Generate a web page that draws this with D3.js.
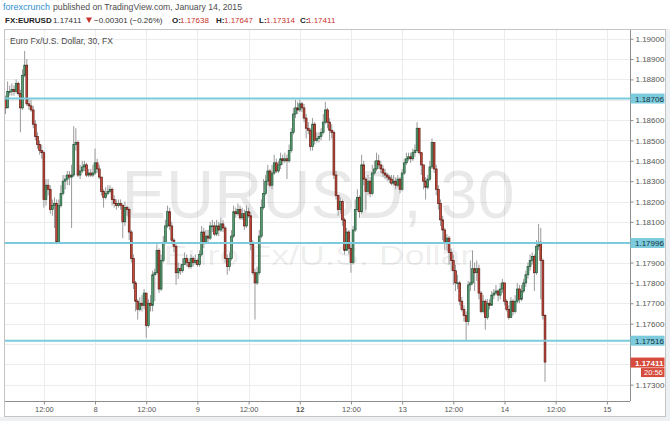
<!DOCTYPE html>
<html><head><meta charset="utf-8">
<script src="https://cdn.jsdelivr.net/npm/d3@7"></script>
<style>
html,body{margin:0;padding:0;background:#fff;}
svg{display:block;font-family:"Liberation Sans",Arial,Helvetica,sans-serif;}
</style></head><body>
<svg id="c" width="670" height="421"></svg>
<script>
// ---------------- DATA ----------------
const publisher = "forexcrunch";
const publishedText = "published on TradingView.com, January 14, 2015";
const symbol = "FX:EURUSD";
const chartTitle = "Euro Fx/U.S. Dollar, 30, FX";
const watermarkMain = "EURUSD, 30";
const watermarkSub = "Euro Fx/U.S. Dollar";
const quote = {last: "1.17411", change: "\u22120.00301 (\u22120.26%)", O: "1.17638", H: "1.17647", L: "1.17314", C: "1.17411"};

const firstOpen = 1.1870;
const closes = [
1.1866,1.1874,1.1874,1.1875,1.1874,1.1878,1.1873,1.1866,1.1882,1.1887,
1.1868,1.1867,1.1865,1.1858,1.1852,1.1848,1.1845,1.1844,1.1821,1.1828,
1.1826,1.1816,1.1818,1.1819,1.1800,1.1818,1.1824,1.1830,1.1831,1.1833,
1.1832,1.1833,1.1848,1.1849,1.1833,1.1835,1.1837,1.1838,1.1833,1.1834,
1.1833,1.1834,1.1839,1.1836,1.1832,1.1825,1.1822,1.1824,1.1825,1.1826,
1.1821,1.1819,1.1818,1.1819,1.1818,1.1810,1.1817,1.1816,1.1805,1.1792,
1.1780,1.1771,1.1767,1.1770,1.1769,1.1775,1.1759,1.1770,1.1769,1.1784,
1.1785,1.1796,1.1777,1.1791,1.1800,1.1808,1.1815,1.1808,1.1801,1.1798,
1.1785,1.1787,1.1786,1.1789,1.1792,1.1790,1.1788,1.1792,1.1790,1.1791,
1.1789,1.1794,1.1805,1.1800,1.1803,1.1802,1.1808,1.1808,1.1804,1.1808,
1.1806,1.1809,1.1807,1.1792,1.1788,1.1792,1.1803,1.1815,1.1814,1.1816,
1.1812,1.1814,1.1808,1.1815,1.1813,1.1799,1.1785,1.1780,1.1785,1.1803,
1.1817,1.1824,1.1830,1.1835,1.1828,1.1834,1.1839,1.1835,1.1838,1.1841,
1.1840,1.1841,1.1840,1.1845,1.1854,1.1863,1.1866,1.1865,1.1868,1.1866,
1.1861,1.1856,1.1855,1.1847,1.1858,1.1850,1.1851,1.1852,1.1854,1.1859,
1.1865,1.1859,1.1855,1.1854,1.1833,1.1823,1.1816,1.1820,1.1811,1.1796,
1.1805,1.1797,1.1790,1.1806,1.1816,1.1822,1.1815,1.1838,1.1831,1.1825,
1.1830,1.1824,1.1834,1.1836,1.1840,1.1838,1.1836,1.1834,1.1833,1.1832,
1.1831,1.1829,1.1830,1.1828,1.1831,1.1826,1.1834,1.1839,1.1841,1.1842,
1.1841,1.1844,1.1845,1.1856,1.1844,1.1838,1.1830,1.1827,1.1831,1.1837,
1.1849,1.1836,1.1826,1.1819,1.1811,1.1806,1.1800,1.1802,1.1795,1.1791,
1.1786,1.1780,1.1780,1.1771,1.1767,1.1764,1.1761,1.1779,1.1780,1.1787,
1.1785,1.1787,1.1775,1.1766,1.1771,1.1763,1.1770,1.1769,1.1774,1.1775,
1.1776,1.1774,1.1777,1.1780,1.1771,1.1767,1.1763,1.1771,1.1766,1.1771,
1.1777,1.1772,1.1776,1.1780,1.1784,1.1788,1.1791,1.1793,1.1785,1.1798,
1.1800,1.1791,1.1764,1.17411];
const highs = [
1.1872,1.1879,1.1877,1.1878,1.1877,1.1880,1.1879,1.1875,1.1885,1.1894,
1.1890,1.1871,1.1870,1.1867,1.1860,1.1854,1.1850,1.1848,1.1845,1.1831,
1.1831,1.1828,1.1821,1.1822,1.1821,1.1821,1.1828,1.1833,1.1833,1.1835,
1.1835,1.1838,1.1857,1.1856,1.1850,1.1838,1.1840,1.1840,1.1839,1.1836,
1.1836,1.1838,1.1846,1.1841,1.1838,1.1832,1.1826,1.1827,1.1828,1.1828,
1.1827,1.1823,1.1821,1.1821,1.1821,1.1819,1.1820,1.1818,1.1817,1.1806,
1.1794,1.1781,1.1772,1.1773,1.1774,1.1777,1.1775,1.1772,1.1774,1.1786,
1.1787,1.1799,1.1797,1.1794,1.1803,1.1811,1.1818,1.1817,1.1810,1.1802,
1.1799,1.1790,1.1789,1.1792,1.1795,1.1794,1.1792,1.1794,1.1793,1.1794,
1.1792,1.1796,1.1808,1.1807,1.1806,1.1806,1.1810,1.1811,1.1810,1.1811,
1.1810,1.1812,1.1811,1.1808,1.1794,1.1795,1.1806,1.1818,1.1817,1.1819,
1.1818,1.1817,1.1816,1.1818,1.1817,1.1815,1.1801,1.1787,1.1788,1.1806,
1.1821,1.1831,1.1833,1.1838,1.1836,1.1838,1.1843,1.1841,1.1840,1.1844,
1.1843,1.1844,1.1843,1.1848,1.1856,1.1866,1.1870,1.1869,1.1870,1.1869,
1.1868,1.1863,1.1859,1.1856,1.1861,1.1859,1.1854,1.1854,1.1856,1.1863,
1.1869,1.1866,1.1861,1.1858,1.1855,1.1835,1.1823,1.1822,1.1821,1.1812,
1.1807,1.1806,1.1799,1.1808,1.1821,1.1826,1.1823,1.1843,1.1840,1.1832,
1.1833,1.1832,1.1838,1.1840,1.1844,1.1843,1.1840,1.1838,1.1836,1.1834,
1.1833,1.1833,1.1833,1.1832,1.1833,1.1832,1.1836,1.1841,1.1844,1.1844,
1.1844,1.1846,1.1848,1.1859,1.1856,1.1844,1.1838,1.1832,1.1833,1.1840,
1.1851,1.1849,1.1838,1.1828,1.1821,1.1813,1.1807,1.1804,1.1803,1.1797,
1.1794,1.1789,1.1784,1.1781,1.1773,1.1769,1.1766,1.1781,1.1791,1.1796,
1.1790,1.1791,1.1789,1.1776,1.1774,1.1772,1.1772,1.1772,1.1776,1.1777,
1.1779,1.1777,1.1780,1.1782,1.1780,1.1772,1.1769,1.1773,1.1772,1.1774,
1.1780,1.1779,1.1779,1.1782,1.1786,1.1790,1.1794,1.1795,1.1794,1.1801,
1.1809,1.1807,1.1792,1.17647];
const lows = [
1.1863,1.1866,1.1872,1.1872,1.1872,1.1873,1.1872,1.1854,1.1865,1.1881,
1.1867,1.1865,1.1864,1.1856,1.1850,1.1846,1.1843,1.1841,1.1817,1.1818,
1.1823,1.1814,1.1813,1.1807,1.1799,1.1800,1.1817,1.1823,1.1826,1.1828,
1.1828,1.1807,1.1832,1.1845,1.1832,1.1831,1.1834,1.1835,1.1832,1.1832,
1.1832,1.1832,1.1833,1.1834,1.1831,1.1823,1.1817,1.1821,1.1823,1.1824,
1.1818,1.1817,1.1816,1.1817,1.1816,1.1802,1.1808,1.1813,1.1801,1.1790,
1.1777,1.1766,1.1762,1.1766,1.1766,1.1767,1.1753,1.1758,1.1766,1.1766,
1.1771,1.1784,1.1775,1.1776,1.1790,1.1799,1.1807,1.1806,1.1799,1.1795,
1.1779,1.1782,1.1784,1.1785,1.1789,1.1788,1.1787,1.1787,1.1788,1.1789,
1.1788,1.1788,1.1793,1.1797,1.1799,1.1800,1.1801,1.1805,1.1803,1.1803,
1.1803,1.1805,1.1805,1.1790,1.1784,1.1786,1.1791,1.1802,1.1812,1.1813,
1.1811,1.1811,1.1806,1.1807,1.1812,1.1796,1.1784,1.1762,1.1779,1.1784,
1.1802,1.1816,1.1823,1.1828,1.1827,1.1826,1.1833,1.1834,1.1834,1.1836,
1.1838,1.1839,1.1831,1.1839,1.1844,1.1853,1.1861,1.1863,1.1864,1.1864,
1.1859,1.1851,1.1853,1.1845,1.1845,1.1848,1.1849,1.1849,1.1850,1.1853,
1.1858,1.1856,1.1850,1.1851,1.1831,1.1821,1.1813,1.1814,1.1808,1.1794,
1.1796,1.1794,1.1785,1.1789,1.1805,1.1815,1.1812,1.1814,1.1828,1.1816,
1.1823,1.1822,1.1823,1.1833,1.1835,1.1836,1.1834,1.1832,1.1831,1.1830,
1.1829,1.1828,1.1828,1.1826,1.1827,1.1824,1.1825,1.1833,1.1838,1.1840,
1.1839,1.1840,1.1842,1.1844,1.1843,1.1833,1.1826,1.1821,1.1826,1.1830,
1.1836,1.1834,1.1823,1.1816,1.1808,1.1801,1.1796,1.1796,1.1789,1.1786,
1.1779,1.1776,1.1777,1.1769,1.1766,1.1761,1.1752,1.1759,1.1776,1.1779,
1.1776,1.1781,1.1772,1.1765,1.1765,1.1757,1.1762,1.1767,1.1769,1.1772,
1.1774,1.1771,1.1772,1.1775,1.1769,1.1766,1.1762,1.1763,1.1764,1.1765,
1.1770,1.1770,1.1771,1.1775,1.1778,1.1782,1.1786,1.1789,1.1776,1.1784,
1.1796,1.1772,1.1762,1.17314];

// time axis: bar 0 = Jan 7 03:00 (30-minute bars), a label every 24 bars
const timeLabels = ["12:00","8","12:00","9","12:00","12","12:00","13","12:00","14","12:00","15"];
const tickBars = [18,42,66,90,114,138,162,186,210,234,258,282];
const boldLabels = ["12"];

// price axis
const gridPrices = [1.173,1.174,1.175,1.176,1.177,1.178,1.179,1.180,1.181,1.182,1.183,1.184,1.185,1.186,1.187,1.188,1.189,1.190];
const priceTicks = [1.190,1.189,1.188,1.186,1.185,1.184,1.183,1.182,1.181,1.179,1.178,1.177,1.176,1.173];
const levels = [1.18706, 1.17996, 1.17516];
const lastPrice = 1.17411;
const countdown = "20:56";

if (closes.length !== highs.length || closes.length !== lows.length) {
  throw new Error("length mismatch " + closes.length + " " + highs.length + " " + lows.length);
}

// ---------------- LAYOUT ----------------
const W = 670, H = 421;
const plot = {l: 5, r: 630, t: 30, b: 401};
const svg = d3.select("#c");

const bars = closes.map((c, i) => {
  const o = i === 0 ? firstOpen : closes[i - 1];
  return {i, o, c, h: Math.max(highs[i], o, c), l: Math.min(lows[i], o, c)};
});

const x = d3.scaleLinear().domain([-0.22, 292.85]).range([plot.l, plot.r]);
const y = d3.scaleLinear().domain([1.172197, 1.190428]).range([plot.b, plot.t]);

// backgrounds
svg.append("rect").attr("width", W).attr("height", H).attr("fill", "#ffffff");
svg.append("rect").attr("x", 0).attr("y", 417).attr("width", W).attr("height", 4).attr("fill", "#eef1f4");
svg.append("rect").attr("x", 666).attr("y", 29).attr("width", 4).attr("height", 392).attr("fill", "#eef1f4");

// header
svg.append("text").attr("x", 3).attr("y", 10).attr("font-size", 9.5).attr("fill", "#2f8fd2")
  .attr("textLength", 47).attr("lengthAdjust", "spacingAndGlyphs").text(publisher);
svg.append("text").attr("x", 53).attr("y", 10).attr("font-size", 9.5).attr("fill", "#4d4d4d")
  .attr("textLength", 189).attr("lengthAdjust", "spacingAndGlyphs").text(publishedText);

const hy = 22.5;
function htext(xp, t, fill, bold) {
  svg.append("text").attr("x", xp).attr("y", hy).attr("font-size", 8)
    .attr("font-weight", bold ? "bold" : "normal").attr("fill", fill).text(t);
}
const red = "#c8332b";
htext(5, symbol, "#222", true);
htext(53, quote.last, "#333", false);
svg.append("path").attr("d", "M86,17.5 L92,17.5 L89,23 Z").attr("fill", red);
htext(94, quote.change, "#333", false);
htext(172, "O:", "#222", true); htext(180, quote.O, red, false);
htext(216, "H:", "#222", true); htext(224, quote.H, red, false);
htext(259, "L:", "#222", true); htext(266, quote.L, red, false);
htext(300, "C:", "#222", true); htext(307, quote.C, red, false);

// frame
svg.append("rect").attr("x", 4.5).attr("y", 29.5).attr("width", 661).attr("height", 387)
  .attr("fill", "#fff").attr("stroke", "#c4c4c4");

// grid
const grid = svg.append("g");
grid.selectAll("line.h").data(gridPrices).join("line")
  .attr("x1", plot.l).attr("x2", plot.r)
  .attr("y1", d => Math.round(y(d)) + 0.5).attr("y2", d => Math.round(y(d)) + 0.5)
  .attr("stroke", "#ececec");
grid.selectAll("line.v").data(tickBars).join("line")
  .attr("x1", d => Math.round(x(d)) + 0.5).attr("x2", d => Math.round(x(d)) + 0.5)
  .attr("y1", plot.t).attr("y2", plot.b)
  .attr("stroke", "#ececec");

// watermark
const cx = 318;
svg.append("text").attr("x", cx).attr("y", 218).attr("text-anchor", "middle")
  .attr("font-size", 68).attr("fill", "#000").attr("fill-opacity", 0.085)
  .attr("textLength", 393).attr("lengthAdjust", "spacingAndGlyphs").text(watermarkMain);
svg.append("text").attr("x", cx).attr("y", 265).attr("text-anchor", "middle")
  .attr("font-size", 28).attr("fill", "#000").attr("fill-opacity", 0.085)
  .attr("textLength", 309).attr("lengthAdjust", "spacingAndGlyphs").text(watermarkSub);

// chart title
svg.append("text").attr("x", 10).attr("y", 44).attr("font-size", 9).attr("fill", "#4a4a4a")
  .attr("textLength", 103).attr("lengthAdjust", "spacingAndGlyphs").text(chartTitle);

// candles
svg.append("clipPath").attr("id", "pc").append("rect")
  .attr("x", plot.l).attr("y", plot.t).attr("width", plot.r - plot.l).attr("height", plot.b - plot.t);
const cg = svg.append("g").attr("clip-path", "url(#pc)");
cg.selectAll("line.w").data(bars).join("line")
  .attr("x1", d => x(d.i)).attr("x2", d => x(d.i))
  .attr("y1", d => y(d.h)).attr("y2", d => y(d.l))
  .attr("stroke", "#9a9a9a").attr("stroke-width", 1);
cg.selectAll("rect.b").data(bars).join("rect")
  .attr("x", d => x(d.i) - 0.9).attr("width", 1.8)
  .attr("y", d => y(Math.max(d.o, d.c)))
  .attr("height", d => Math.max(0.8, Math.abs(y(d.o) - y(d.c))))
  .attr("fill", d => d.c >= d.o ? "#5a9f74" : "#cc4a3a")
  .attr("stroke", d => d.c >= d.o ? "#23583a" : "#5e1b14")
  .attr("stroke-width", 0.7);

// level lines
svg.selectAll("line.lvl").data(levels).join("line")
  .attr("x1", plot.l).attr("x2", plot.r)
  .attr("y1", d => y(d)).attr("y2", d => y(d))
  .attr("stroke", "#7ccbdc").attr("stroke-width", 2);

// axes
const yAxis = d3.axisRight(y).tickValues(priceTicks).tickFormat(d3.format(".5f")).tickSize(3).tickSizeOuter(0).tickPadding(2);
const ya = svg.append("g").attr("transform", `translate(${plot.r + 0.5},0)`).call(yAxis);
ya.select(".domain").attr("stroke", "#8c8c8c").attr("d", `M0,${plot.t}V${plot.b}`);
ya.selectAll(".tick line").attr("stroke", "#8c8c8c");
ya.selectAll(".tick text").attr("font-size", 8).attr("fill", "#555").attr("font-family", null);

const xAxis = d3.axisBottom(x).tickValues(tickBars).tickFormat((d, i) => timeLabels[i]).tickSize(3).tickSizeOuter(0).tickPadding(2);
const xa = svg.append("g").attr("transform", `translate(0,${plot.b + 0.5})`).call(xAxis);
xa.select(".domain").attr("stroke", "#8c8c8c").attr("d", `M${plot.l},0H${plot.r}`);
xa.selectAll(".tick line").attr("stroke", "#8c8c8c");
xa.selectAll(".tick text").attr("font-size", 7.5).attr("fill", "#555").attr("font-family", null)
  .attr("font-weight", (d, i) => boldLabels.includes(timeLabels[i]) ? "bold" : "normal");

// level labels
const fmt = d3.format(".5f");
levels.forEach(v => {
  const yy = y(v);
  svg.append("rect").attr("x", plot.r + 0.5).attr("y", yy - 5).attr("width", 34).attr("height", 10).attr("fill", "#7ccbdc");
  svg.append("text").attr("x", plot.r + 5).attr("y", yy + 3).attr("font-size", 8).attr("fill", "#15323c").text(fmt(v));
});

// last price label
const ly = y(lastPrice);
svg.append("rect").attr("x", plot.r + 0.5).attr("y", ly - 4.5).attr("width", 34).attr("height", 10).attr("fill", "#d64b3c");
svg.append("text").attr("x", plot.r + 5).attr("y", ly + 3.5).attr("font-size", 8).attr("fill", "#fff").attr("font-weight", "bold").text(fmt(lastPrice));
svg.append("rect").attr("x", 641).attr("y", ly + 6).attr("width", 23.5).attr("height", 9).attr("fill", "#d64b3c");
svg.append("text").attr("x", 644).attr("y", ly + 13).attr("font-size", 7.5).attr("fill", "#fff").text(countdown);
</script>
</body></html>
